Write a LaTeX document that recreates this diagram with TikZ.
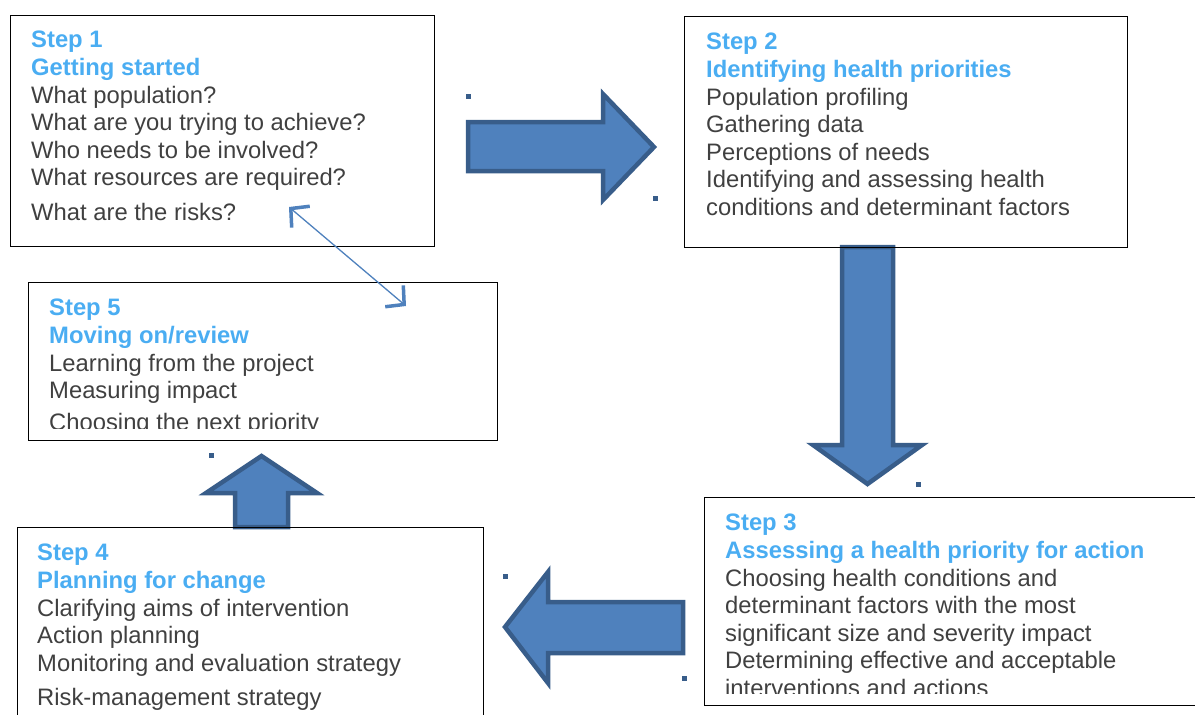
\documentclass[tikz,border=0pt]{standalone}
\usepackage{fontspec}
\setmainfont{Liberation Sans}
\usetikzlibrary{arrows.meta}
\definecolor{stepblue}{HTML}{4AADF2}
\definecolor{bodygray}{HTML}{404040}
\definecolor{arrowfill}{HTML}{4F81BD}
\definecolor{arrowline}{HTML}{385D8A}
\newcommand{\stephead}[1]{\textcolor{stepblue}{\textbf{#1}}}

\begin{document}
\begin{tikzpicture}[x=1pt, y=-1pt]
\tikzset{stepbox/.style={draw=black, line width=1.3pt, anchor=north west,
                         inner sep=0pt},
         steptext/.style={anchor=north west, align=left, inner sep=0pt,
                          text=bodygray, font=\fontsize{23.8}{27.6}\selectfont},
         blockarrow/.style={fill=arrowfill, draw=arrowline, line width=4.5pt,
                            line join=miter},
         marker/.style={fill=arrowline}}
\useasboundingbox (0,0) rectangle (1195,715);
\clip (0,0) rectangle (1195,715);
% block arrows between the steps
\draw[blockarrow] (468,122) -- (603,122) -- (603,94) -- (654,147) -- (603,200)
  -- (603,171) -- (468,171) -- cycle;
\draw[blockarrow] (842,247) -- (893,247) -- (893,445) -- (922,445) -- (867.5,484)
  -- (813,445) -- (842,445) -- cycle;
\draw[blockarrow] (683,602) -- (548,602) -- (548,572) -- (505,627) -- (548,683)
  -- (548,653) -- (683,653) -- cycle;
\draw[blockarrow] (235,527) -- (235,493) -- (206,493) -- (261.5,456) -- (317,493)
  -- (288,493) -- (288,527) -- cycle;
% small markers
\foreach \x/\y in {468/96, 655/198, 918/484, 505/576, 684/678, 211/455}
  {\fill[marker] (\x-2.5,\y-2.5) rectangle (\x+2.5,\y+2.5);}
% step boxes
\node[stepbox, minimum width=424pt, minimum height=231pt] (s1) at (10,15) {};
\node[stepbox, minimum width=443pt, minimum height=231pt] (s2) at (684,16) {};
\node[stepbox, minimum width=520pt, minimum height=208pt] (s3) at (704,497) {};
\node[stepbox, minimum width=466pt, minimum height=220pt] (s4) at (17,527) {};
\node[stepbox, minimum width=469pt, minimum height=158pt] (s5) at (28,282) {};
% texts, clipped inside the boxes
\begin{scope}
\clip (s1.north west) rectangle ([yshift=13pt]s1.south east);
\node[steptext] (t1) at ([xshift=21pt, yshift=-16pt]s1.north west)
  {\stephead{Step 1}\\ \stephead{Getting started}\\ What population?\\
   What are you trying to achieve?\\ Who needs to be involved?\\
   What resources are required?\\[7pt] What are the risks?};
\end{scope}
\begin{scope}
\clip (s2.north west) rectangle ([yshift=13pt]s2.south east);
\node[steptext] (t2) at ([xshift=22pt, yshift=-17pt]s2.north west)
  {\stephead{Step 2}\\ \stephead{Identifying health priorities}\\
   Population profiling\\ Gathering data\\ Perceptions of needs\\
   Identifying and assessing health\\ conditions and determinant factors};
\end{scope}
\begin{scope}
\clip (s3.north west) rectangle ([yshift=13pt]s3.south east);
\node[steptext] (t3) at ([xshift=21pt, yshift=-17pt]s3.north west)
  {\stephead{Step 3}\\ \stephead{Assessing a health priority for action}\\
   Choosing health conditions and\\ determinant factors with the most\\
   significant size and severity impact\\ Determining effective and acceptable\\
   interventions and actions};
\end{scope}
\begin{scope}
\clip (s4.north west) rectangle ([yshift=13pt]s4.south east);
\node[steptext] (t4) at ([xshift=20pt, yshift=-17pt]s4.north west)
  {\stephead{Step 4}\\ \stephead{Planning for change}\\
   Clarifying aims of intervention\\ Action planning\\
   Monitoring and evaluation strategy\\[7pt] Risk-management strategy};
\end{scope}
\begin{scope}
\clip (s5.north west) rectangle ([yshift=13pt]s5.south east);
\node[steptext] (t5) at ([xshift=21pt, yshift=-17pt]s5.north west)
  {\stephead{Step 5}\\ \stephead{Moving on/review}\\
   Learning from the project\\ Measuring impact\\[4pt]
   Choosing the next priority};
\end{scope}
% link between step 1 and step 5
\coordinate (r1) at (289,207);
\coordinate (r5) at (406,306);
\draw[arrowfill, line width=1.3pt,
      {Straight Barb[length=13pt, width=28pt, line width=3.5pt]}-{Straight Barb[length=13pt, width=28pt, line width=3.5pt]}]
  (r1) -- (r5);
\end{tikzpicture}
\end{document}
